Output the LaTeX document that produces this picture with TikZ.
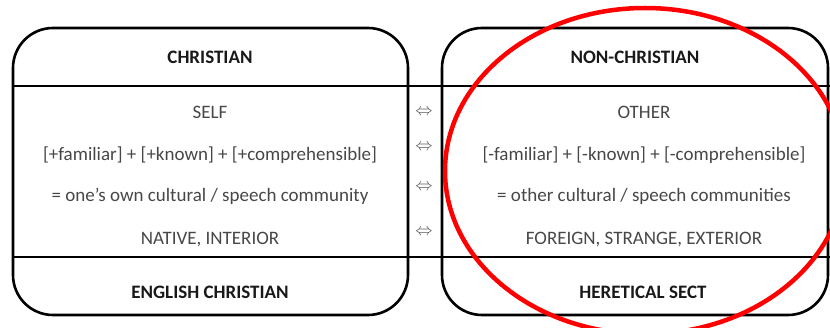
\documentclass[tikz,border=0pt]{standalone}
\usepackage{fontspec}
\setmainfont{Carlito}
\begin{document}
\begin{tikzpicture}[x=1pt, y=-1pt, line join=round, line cap=round, font=\fontsize{19}{22}\selectfont]
	\tikzset{box/.style={line width=2.6pt, rounded corners=40pt}, rule/.style={line width=2.2pt},
		head/.style={font=\fontsize{19}{22}\selectfont\bfseries, text=black!90},
		body/.style={text=black!72}, swap/.style={text=black!65, font=\fontsize{16}{16}\selectfont}}
	\def\ytop{28}\def\ybot{315}\def\yhead{86}\def\yfoot{257}
	\useasboundingbox (0,0) rectangle (830,328);
	\clip (0,0) rectangle (830,328);
	\draw[box] (13,\ytop) rectangle (408,\ybot);
	\draw[box] (442,\ytop) rectangle (828,\ybot);
	\draw[rule] (13,\yhead) -- (830,\yhead) (13,\yfoot) -- (830,\yfoot);
	\node[head] (christian) at (210,57) {CHRISTIAN};
	\node[body] (self) at (210,112) {SELF};
	\node[body] (plus) at (210,155) {[+familiar] + [+known] + [+comprehensible]};
	\node[body] (own) at (210,196) {= one’s own cultural / speech community};
	\node[body] (native) at (210,240) {NATIVE, INTERIOR};
	\node[head] (english) at (210,292) {ENGLISH CHRISTIAN};
	\node[head] (nonchristian) at (635,57) {NON-CHRISTIAN};
	\node[body] (other) at (644,112) {OTHER};
	\node[body] (minus) at (644,155) {[-familiar] + [-known] + [-comprehensible]};
	\node[body] (others) at (644,196) {= other cultural / speech communities};
	\node[body] (foreign) at (644,240) {FOREIGN, STRANGE, EXTERIOR};
	\node[head] (heretical) at (643,292) {HERETICAL SECT};
	\foreach \y [count=\i] in {112,147,187,232}
		\node[swap] (swap\i) at (424,\y) {$\Leftrightarrow$};
	% red ring round the other side
	\draw[red, line width=4.5pt] (645,171) ellipse [x radius=200, y radius=163];
\end{tikzpicture}
\end{document}
